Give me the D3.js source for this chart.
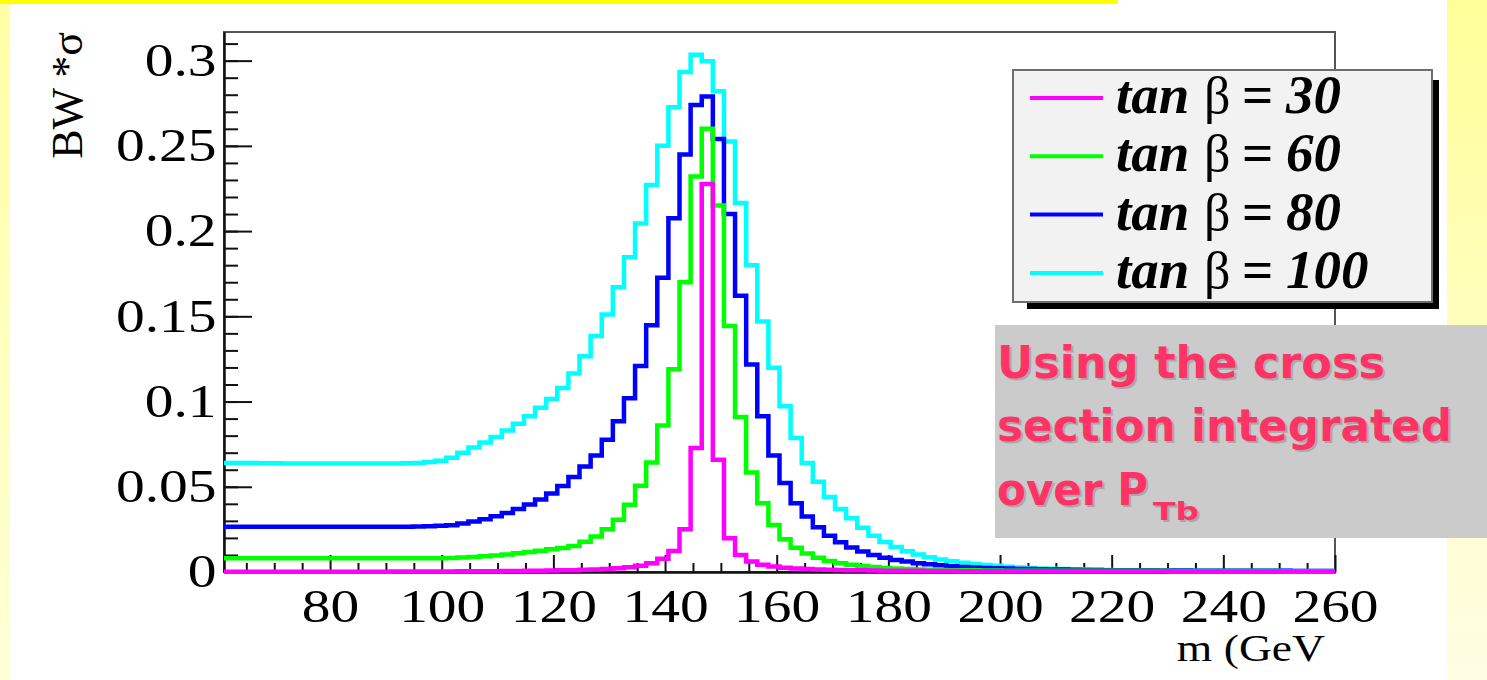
<!DOCTYPE html>
<html lang="en">
<head>
<meta charset="UTF-8" />
<title>BW * sigma vs m</title>
<script src="https://cdn.jsdelivr.net/npm/d3@7/dist/d3.min.js"></script>
<style>
  body { margin: 0; background: #fff; }
  svg { display: block; }
  .axis text { font-family: "Liberation Serif", "DejaVu Serif", serif; font-size: 46px; fill: #000; }
  .axis path, .axis line { stroke: #111; stroke-width: 2px; }
  .hist { fill: none; stroke-width: 4.5px; stroke-linejoin: miter; }
</style>
</head>
<body>
<svg width="1487" height="680"></svg>
<script>
// histogram binning (100 bins over the axis range)
const binStart = 61;
const binWidth = 1.99;

const legendLabels = ["30", "60", "80", "100"];
const colors = ["#ff00ff", "#00ff00", "#0000ff", "#00ffff"];

// BW*sigma per bin (10 bins per row)
const tb30 = [
  0.0002, 0.0002, 0.0002, 0.0002, 0.0002, 0.0002, 0.0002, 0.0002, 0.0002, 0.0002,
  0.0002, 0.0002, 0.0002, 0.0002, 0.0002, 0.0003, 0.0003, 0.0003, 0.0003, 0.0003,
  0.0003, 0.0004, 0.0004, 0.0005, 0.0005, 0.0006, 0.0006, 0.0007, 0.0008, 0.0009,
  0.0010, 0.0011, 0.0013, 0.0015, 0.0018, 0.0022, 0.0028, 0.0037, 0.0052, 0.0078,
  0.0123, 0.0251, 0.0728, 0.2276, 0.0659, 0.0198, 0.0100, 0.0062, 0.0043, 0.0032,
  0.0025, 0.0021, 0.0018, 0.0015, 0.0013, 0.0012, 0.0011, 0.0010, 0.0009, 0.0008,
  0.0008, 0.0007, 0.0007, 0.0006, 0.0006, 0.0006, 0.0005, 0.0005, 0.0005, 0.0005,
  0.0004, 0.0004, 0.0004, 0.0004, 0.0004, 0.0004, 0.0004, 0.0004, 0.0004, 0.0004,
  0.0004, 0.0004, 0.0004, 0.0004, 0.0004, 0.0003, 0.0003, 0.0003, 0.0003, 0.0003,
  0.0003, 0.0003, 0.0003, 0.0003, 0.0003, 0.0003, 0.0003, 0.0003, 0.0003, 0.0003
];
const tb60 = [
  0.0080, 0.0080, 0.0080, 0.0080, 0.0080, 0.0080, 0.0080, 0.0080, 0.0080, 0.0080,
  0.0080, 0.0080, 0.0080, 0.0080, 0.0080, 0.0080, 0.0080, 0.0080, 0.0080, 0.0081,
  0.0082, 0.0085, 0.0088, 0.0092, 0.0097, 0.0103, 0.0110, 0.0117, 0.0125, 0.0133,
  0.0141, 0.0152, 0.0178, 0.0208, 0.0251, 0.0306, 0.0394, 0.0506, 0.0643, 0.0859,
  0.1190, 0.1700, 0.2320, 0.2600, 0.2150, 0.1443, 0.0910, 0.0584, 0.0404, 0.0276,
  0.0192, 0.0142, 0.0108, 0.0083, 0.0065, 0.0052, 0.0043, 0.0035, 0.0029, 0.0024,
  0.0020, 0.0017, 0.0015, 0.0013, 0.0012, 0.0011, 0.0010, 0.0010, 0.0009, 0.0009,
  0.0008, 0.0008, 0.0008, 0.0008, 0.0008, 0.0007, 0.0007, 0.0007, 0.0007, 0.0007,
  0.0007, 0.0007, 0.0007, 0.0007, 0.0007, 0.0006, 0.0006, 0.0006, 0.0006, 0.0006,
  0.0006, 0.0006, 0.0006, 0.0006, 0.0006, 0.0005, 0.0005, 0.0005, 0.0005, 0.0005
];
const tb80 = [
  0.0266, 0.0266, 0.0266, 0.0266, 0.0266, 0.0266, 0.0266, 0.0266, 0.0266, 0.0266,
  0.0266, 0.0266, 0.0266, 0.0266, 0.0266, 0.0266, 0.0266, 0.0267, 0.0268, 0.0271,
  0.0274, 0.0284, 0.0296, 0.0310, 0.0327, 0.0346, 0.0370, 0.0396, 0.0425, 0.0460,
  0.0505, 0.0558, 0.0619, 0.0684, 0.0776, 0.0884, 0.1020, 0.1208, 0.1447, 0.1727,
  0.2076, 0.2450, 0.2740, 0.2790, 0.2540, 0.2100, 0.1620, 0.1218, 0.0914, 0.0684,
  0.0522, 0.0404, 0.0325, 0.0262, 0.0212, 0.0174, 0.0144, 0.0120, 0.0100, 0.0084,
  0.0071, 0.0061, 0.0052, 0.0045, 0.0039, 0.0034, 0.0030, 0.0027, 0.0024, 0.0022,
  0.0020, 0.0018, 0.0017, 0.0016, 0.0015, 0.0014, 0.0013, 0.0012, 0.0012, 0.0011,
  0.0011, 0.0010, 0.0010, 0.0010, 0.0009, 0.0009, 0.0009, 0.0008, 0.0008, 0.0008,
  0.0008, 0.0007, 0.0007, 0.0007, 0.0007, 0.0007, 0.0006, 0.0006, 0.0006, 0.0006
];
const tb100 = [
  0.0640, 0.0640, 0.0639, 0.0638, 0.0638, 0.0637, 0.0637, 0.0636, 0.0636, 0.0636,
  0.0636, 0.0636, 0.0636, 0.0636, 0.0636, 0.0637, 0.0638, 0.0640, 0.0645, 0.0653,
  0.0670, 0.0700, 0.0730, 0.0760, 0.0792, 0.0830, 0.0870, 0.0914, 0.0963, 0.1015,
  0.1080, 0.1165, 0.1266, 0.1384, 0.1510, 0.1670, 0.1847, 0.2045, 0.2270, 0.2500,
  0.2727, 0.2933, 0.3035, 0.2996, 0.2820, 0.2525, 0.2165, 0.1800, 0.1470, 0.1198,
  0.0973, 0.0786, 0.0639, 0.0530, 0.0440, 0.0370, 0.0315, 0.0260, 0.0212, 0.0176,
  0.0146, 0.0122, 0.0102, 0.0086, 0.0073, 0.0063, 0.0054, 0.0047, 0.0041, 0.0036,
  0.0031, 0.0027, 0.0024, 0.0021, 0.0019, 0.0017, 0.0015, 0.0014, 0.0013, 0.0012,
  0.0011, 0.0011, 0.0010, 0.0010, 0.0009, 0.0009, 0.0009, 0.0008, 0.0008, 0.0008,
  0.0008, 0.0007, 0.0007, 0.0007, 0.0007, 0.0007, 0.0006, 0.0006, 0.0006, 0.0006
];
const series = [tb30, tb60, tb80, tb100];

const xMajor = [80, 100, 120, 140, 160, 180, 200, 220, 240, 260];
const xMinor = d3.range(65, 261, 5).filter((v) => v % 20 !== 0);
const yMajor = [0, 0.05, 0.1, 0.15, 0.2, 0.25, 0.3];
const yMinor = d3.range(0, 0.315, 0.01).map((v) => +v.toFixed(2));
const yLabels = ["0", "0.05", "0.1", "0.15", "0.2", "0.25", "0.3"];

const svg = d3.select("svg");
const W = 1487, H = 680;
const frame = { left: 224, right: 1335, top: 32, bottom: 572 };

const x = d3.scaleLinear().domain([61, 260]).range([frame.left, frame.right]);
const y = d3.scaleLinear().domain([0, 0.3168]).range([frame.bottom, frame.top]);

// slide background bits
const defs = svg.append("defs");
const gr = defs.append("linearGradient").attr("id", "rgrad").attr("x1", 0).attr("y1", 0).attr("x2", 0).attr("y2", 1);
gr.append("stop").attr("offset", "0%").attr("stop-color", "#ffff99");
gr.append("stop").attr("offset", "100%").attr("stop-color", "#fffde3");
const gl = defs.append("linearGradient").attr("id", "lgrad").attr("x1", 0).attr("y1", 0).attr("x2", 0).attr("y2", 1);
gl.append("stop").attr("offset", "0%").attr("stop-color", "#ffffa6");
gl.append("stop").attr("offset", "100%").attr("stop-color", "#ffffd6");

svg.append("rect").attr("width", W).attr("height", H).attr("fill", "#fff");
svg.append("rect").attr("x", 0).attr("y", 0).attr("width", 10).attr("height", H).attr("fill", "url(#lgrad)");
svg.append("rect").attr("x", 1447).attr("y", 0).attr("width", 40).attr("height", H).attr("fill", "url(#rgrad)");
svg.append("rect").attr("x", 0).attr("y", 0).attr("width", 1118).attr("height", 4).attr("fill", "#ffff00");

// frame
svg.append("rect")
  .attr("x", frame.left).attr("y", frame.top)
  .attr("width", frame.right - frame.left).attr("height", frame.bottom - frame.top)
  .attr("fill", "none").attr("stroke", "#555").attr("stroke-width", 2);

// x axis: minor ticks, then major ticks with labels
svg.append("g").attr("class", "axis")
  .attr("transform", `translate(0,${frame.bottom})`)
  .call(d3.axisBottom(x).tickValues(xMinor).tickSize(-9).tickSizeOuter(0).tickFormat(""));
const gx = svg.append("g").attr("class", "axis")
  .attr("transform", `translate(0,${frame.bottom})`)
  .call(d3.axisBottom(x).tickValues(xMajor).tickSize(-17).tickSizeOuter(0).tickPadding(17).tickFormat(d3.format("d")));
gx.selectAll("text").attr("dy", "0.71em").attr("transform", "scale(1.25,1)");

// y axis
svg.append("g").attr("class", "axis")
  .attr("transform", `translate(${frame.left},0)`)
  .call(d3.axisLeft(y).tickValues(yMinor).tickSize(-14).tickSizeOuter(0).tickFormat(""));
const gy = svg.append("g").attr("class", "axis")
  .attr("transform", `translate(${frame.left},0)`)
  .call(d3.axisLeft(y).tickValues(yMajor).tickSize(-28).tickSizeOuter(0).tickPadding(6)
    .tickFormat((d, i) => yLabels[i]));
gy.selectAll("text").attr("transform", "scale(1.25,1)");

// axis titles
svg.append("text")
  .attr("transform", "translate(1325,661) scale(1.2,1)")
  .attr("text-anchor", "end")
  .style("font-family", "'Liberation Serif', serif").style("font-size", "38px")
  .text("m (GeV");
svg.append("text")
  .attr("transform", "translate(82,32) rotate(-90)")
  .attr("text-anchor", "end")
  .style("font-family", "'Liberation Serif', serif").style("font-size", "44px")
  .text("BW *σ");

// histograms, drawn back to front so the narrowest sits on top
const line = d3.line().x((d) => x(d[0])).y((d) => y(d[1])).curve(d3.curveStepAfter);
const order = [3, 2, 1, 0];
order.forEach((k) => {
  const vals = series[k];
  const pts = vals.map((v, i) => [binStart + i * binWidth, v]);
  pts.push([binStart + vals.length * binWidth, vals[vals.length - 1]]);
  svg.append("path").attr("class", "hist").attr("stroke", colors[k]).attr("d", line(pts));
});

// legend with ROOT style shadow
const lg = { x: 1013, y: 70, w: 419, h: 232 };
svg.append("rect").attr("x", lg.x + 14).attr("y", lg.y + lg.h).attr("width", lg.w - 7).attr("height", 7).attr("fill", "#000");
svg.append("rect").attr("x", lg.x + lg.w).attr("y", lg.y + 10).attr("width", 7).attr("height", lg.h - 3).attr("fill", "#000");
svg.append("rect").attr("x", lg.x).attr("y", lg.y).attr("width", lg.w).attr("height", lg.h)
  .attr("fill", "#f2f2f2").attr("stroke", "#6e6e6e").attr("stroke-width", 2);

legendLabels.forEach((lab, i) => {
  const cy = 98 + i * 58.3;
  svg.append("line").attr("x1", 1030).attr("x2", 1103).attr("y1", cy).attr("y2", cy)
    .attr("stroke", colors[i]).attr("stroke-width", 4);
  const t = svg.append("text").attr("y", cy + 15)
    .style("font-family", "'Liberation Serif', serif").style("font-size", "55px");
  t.append("tspan").attr("x", 1116).style("font-weight", "bold").style("font-style", "italic").text("tan");
  t.append("tspan").attr("x", 1204).style("font-size", "52px").text("β");
  t.append("tspan").attr("x", 1242).style("font-weight", "bold").text("=");
  t.append("tspan").attr("x", 1286).style("font-weight", "bold").style("font-style", "italic").text(lab);
});

// annotation box
svg.append("rect").attr("x", 995).attr("y", 325).attr("width", 492).attr("height", 213).attr("fill", "#cbcbcb");
const note = [
  { text: "Using the cross", y: 378, len: 388 },
  { text: "section integrated", y: 441, len: 455 },
  { text: "over P", y: 505, len: 151 }
];
[["#a9a9a9", 2], ["#ff3366", 0]].forEach(([fill, off]) => {
  const g = svg.append("g").attr("transform", `translate(${off},${off})`)
    .style("font-family", "'DejaVu Sans', sans-serif").style("font-weight", "bold").attr("fill", fill);
  note.forEach((n) => {
    g.append("text").attr("x", 997).attr("y", n.y).style("font-size", "44px")
      .attr("textLength", n.len).attr("lengthAdjust", "spacingAndGlyphs").text(n.text);
  });
  g.append("text").attr("x", 1153).attr("y", 520).style("font-size", "25px")
    .attr("textLength", 46).attr("lengthAdjust", "spacingAndGlyphs").text("Tb");
});
</script>
</body>
</html>
